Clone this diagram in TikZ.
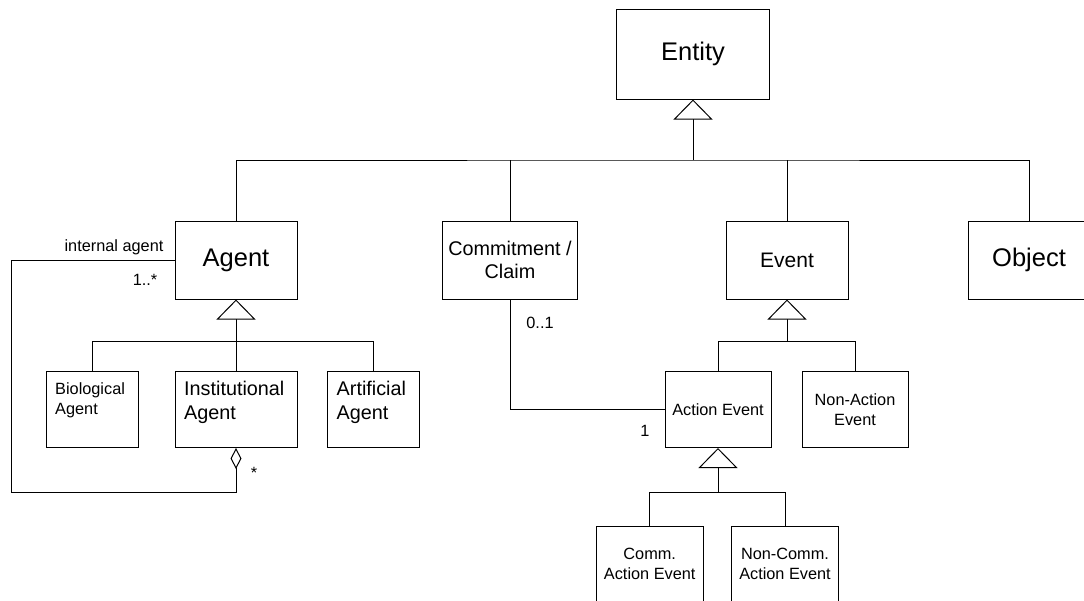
\documentclass[tikz,border=0pt]{standalone}
\usepackage{fontspec}
\setmainfont{Liberation Sans}
\usetikzlibrary{arrows.meta}
\newcommand\szL{\fontsize{25.5}{30}\selectfont}
\newcommand\szE{\fontsize{21}{25}\selectfont}
\newcommand\szM{\fontsize{19.8}{23.3}\selectfont}
\newcommand\szS{\fontsize{16.3}{19.5}\selectfont}
\tikzset{
  box/.style={draw, line width=1pt, inner sep=0pt, align=center},
  txt/.style={inner sep=0pt, align=left},
  lbl/.style={inner sep=0pt, font=\szS},
  conn/.style={line width=1pt},
  gen/.style={conn, -{Triangle[fill=white, length=20pt, width=39pt]}},
  agg/.style={conn, {Diamond[fill=white, length=21pt, width=11pt]}-},
}
\begin{document}
\begin{tikzpicture}[x=1pt,y=-1pt]
\useasboundingbox (0,0) rectangle (1084,600);
% boxes
\node[box, font=\szL, minimum width=153pt, minimum height=90pt] (entity) at (693,54) {Entity};
\node[box, font=\szL, minimum width=122pt, minimum height=78pt] (agent) at (236,260) {Agent};
\node[box, font=\szM, minimum width=135pt, minimum height=78pt] (commit) at (510,260) {Commitment /\\Claim};
\node[box, font=\szE, minimum width=122pt, minimum height=78pt] (event) at (787,260) {Event};
\node[box, font=\szL, minimum width=122pt, minimum height=78pt] (object) at (1029,260) {Object};
\node[box, minimum width=92pt, minimum height=76pt] (bio) at (92.5,409.5) {};
\node[box, minimum width=122pt, minimum height=76pt] (inst) at (236,409.5) {};
\node[box, minimum width=92pt, minimum height=76pt] (art) at (373,409.5) {};
\node[txt, font=\szS, anchor=west] (biot) at (55,400.5) {Biological\\Agent};
\node[txt, font=\szM, anchor=west] (instt) at (184,402.5) {Institutional\\Agent};
\node[txt, font=\szM, anchor=west] (artt) at (336.5,402.5) {Artificial\\Agent};
\node[box, font=\szS, minimum width=106pt, minimum height=76pt] (action) at (718,409.5) {Action Event};
\node[box, font=\szS, minimum width=106pt, minimum height=76pt] (nonaction) at (855,409.5) {Non-Action\\Event};
\node[box, font=\szS, minimum width=107pt, minimum height=76pt] (comm) at (649.7,564) {Comm.\\Action Event};
\node[box, font=\szS, minimum width=107pt, minimum height=76pt] (noncomm) at (785,564) {Non-Comm.\\Action Event};
% generalisation: Entity
\coordinate (eb) at (693,160);
\draw[gen] (eb) -- (entity.south);
\draw[conn] (agent.north) |- (eb) -| (object.north);
\draw[conn] (commit.north) -- (commit.north |- eb);
\draw[conn] (event.north) -- (event.north |- eb);
% generalisation: Agent
\coordinate (ab) at (236,341.7);
\draw[gen] (ab) -- (agent.south);
\draw[conn] (bio.north) |- (ab) -| (art.north);
\draw[conn] (inst.north) -- (ab);
% generalisation: Event
\coordinate (evb) at (787,341.7);
\draw[gen] (evb) -- (event.south);
\draw[conn] (action.north) |- (evb) -| (nonaction.north);
% generalisation: Action Event
\coordinate (acb) at (718,492.3);
\draw[gen] (acb) -- (action.south);
\draw[conn] (comm.north) |- (acb) -| (noncomm.north);
% association Commitment -- Action Event
\draw[conn] (commit.south) |- (action.west);
% aggregation internal agent
\coordinate (c1) at (11,492.3);
\draw[agg] (inst.south) |- (c1) |- (agent.west);
% labels
\node[lbl] (l1) at (114,247.5) {internal agent};
\node[lbl] (l2) at (145,280) {1..*};
\node[lbl] (l3) at (254,473) {*};
\node[lbl] (l4) at (540,323) {0..1};
\node[lbl] (l5) at (645,431) {1};
\end{tikzpicture}
\end{document}
